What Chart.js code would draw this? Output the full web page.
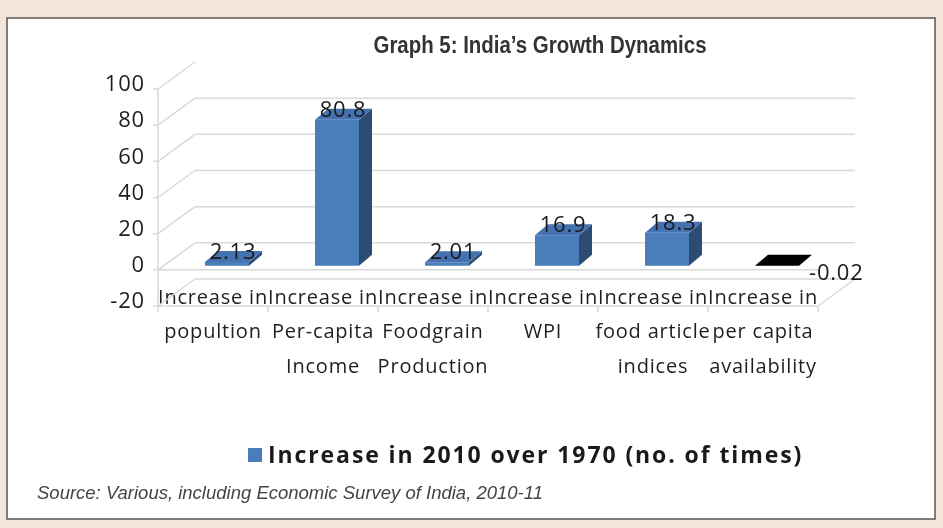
<!DOCTYPE html>
<html>
<head>
<meta charset="utf-8">
<script src="https://cdn.jsdelivr.net/npm/chart.js@4.4.1/dist/chart.umd.min.js"></script>
<style>
  html, body { margin: 0; padding: 0; background: #f5e5d8; }
  canvas { display: block; }
</style>
</head>
<body>
<canvas id="growth-chart" width="943" height="528"></canvas>
<script>
const categories = [
  ["Increase in", "popultion"],
  ["Increase in", "Per-capita", "Income"],
  ["Increase in", "Foodgrain", "Production"],
  ["Increase in", "WPI"],
  ["Increase in", "food article", "indices"],
  ["Increase in", "per capita", "availability"],
];
const increaseTimes = [2.13, 80.8, 2.01, 16.9, 18.3, -0.02];
const valueLabels = ["2.13", "80.8", "2.01", "16.9", "18.3", "-0.02"];
const seriesName = "Increase in 2010 over 1970 (no. of times)";
const yTicks = { min: -20, max: 100, step: 20 };
const chartTitle = "Graph 5: India\u2019s Growth Dynamics";
const sourceNote = "Source: Various, including Economic Survey of India, 2010-11";

// 3d look
const BAR_DX = 14;      // bars sit a bit behind the front axis
const FACE_DX = 13, FACE_DY = -11;
const WALL_DX = 37, WALL_DY = -27, FRONT_DY = 4;
const GRID = "#d9d9d9";

function line(ctx, x1, y1, x2, y2) {
  ctx.beginPath();
  ctx.moveTo(x1, y1);
  ctx.lineTo(x2, y2);
  ctx.stroke();
}

function poly(ctx, pts, fill) {
  ctx.beginPath();
  ctx.moveTo(pts[0][0], pts[0][1]);
  for (let i = 1; i < pts.length; i++) ctx.lineTo(pts[i][0], pts[i][1]);
  ctx.closePath();
  ctx.fillStyle = fill;
  ctx.fill();
}

const spacing = {
  id: "spacing",
  beforeUpdate(chart) { chart.ctx.letterSpacing = "0.8px"; },
  beforeDraw(chart) { chart.ctx.letterSpacing = "0.8px"; }
};

const frame = {
  id: "frame",
  beforeDraw(chart) {
    const ctx = chart.ctx;
    ctx.save();
    ctx.fillStyle = "#f5e5d8";
    ctx.fillRect(0, 0, chart.width, chart.height);
    ctx.fillStyle = "#ffffff";
    ctx.fillRect(7, 18, 928, 501);
    ctx.strokeStyle = "#555555";
    ctx.lineWidth = 1.5;
    ctx.strokeRect(7, 18, 928, 501);
    ctx.restore();
  }
};

const grid3d = {
  id: "grid3d",
  beforeDatasetsDraw(chart) {
    const ctx = chart.ctx;
    const ys = chart.scales.y;
    const L = chart.chartArea.left, R = chart.chartArea.right;
    const front = v => ys.getPixelForValue(v) + FRONT_DY;
    ctx.save();
    ctx.strokeStyle = GRID;
    ctx.lineWidth = 1.5;
    ys.ticks.forEach(t => {
      const yf = front(t.value), yb = yf + WALL_DY;
      if (t.value < yTicks.max) line(ctx, L + WALL_DX, yb, R + WALL_DX, yb);
      line(ctx, L, yf, L + WALL_DX, yb);
      line(ctx, L - 5, yf, L, yf);
    });
    const yMin = front(yTicks.min);
    line(ctx, L, front(yTicks.max), L, yMin);
    line(ctx, L, yMin, R, yMin);
    line(ctx, L, front(0), R, front(0));
    line(ctx, R, yMin, R + WALL_DX, yMin + WALL_DY);
    const step = (R - L) / categories.length;
    for (let i = 0; i <= categories.length; i++) {
      line(ctx, L + i * step, yMin, L + i * step, yMin + 6);
    }
    ctx.restore();

    ctx.save();
    ctx.translate(BAR_DX, 0);
  },
  afterDatasetsDraw(chart) {
    const ctx = chart.ctx;
    const meta = chart.getDatasetMeta(0);
    meta.data.forEach((bar, i) => {
      const { x, y, base, width } = bar.getProps(["x", "y", "base", "width"], true);
      const left = x - width / 2, right = x + width / 2;
      const top = Math.min(y, base), bottom = Math.max(y, base);
      const neg = increaseTimes[i] < 0;
      poly(ctx, [[right, top], [right + FACE_DX, top + FACE_DY], [right + FACE_DX, bottom + FACE_DY], [right, bottom]], "#2d4c74");
      poly(ctx, [[left, top], [left + FACE_DX, top + FACE_DY], [right + FACE_DX, top + FACE_DY], [right, top]], neg ? "#000000" : "#4572b0");

      ctx.fillStyle = "#1a1a1a";
      ctx.font = "22px 'Open Sans'";
      ctx.textBaseline = "alphabetic";
      if (neg) {
        ctx.textAlign = "left";
        ctx.fillText(valueLabels[i], right + 10, base + 14);
      } else {
        ctx.textAlign = "center";
        ctx.fillText(valueLabels[i], x + 6, top - 3);
      }
    });
    ctx.restore();
  },
  afterDraw(chart) {
    const ctx = chart.ctx;
    ctx.save();
    ctx.letterSpacing = "0px";
    ctx.fillStyle = "#333333";
    ctx.textAlign = "center";
    ctx.textBaseline = "middle";
    ctx.font = "bold 23px 'Liberation Sans', Arial, sans-serif";
    // narrow face: squeeze the title to its width in the picture
    const sx = 333 / ctx.measureText(chartTitle).width;
    ctx.save();
    ctx.translate(540, 47);
    ctx.scale(sx, 1);
    ctx.fillText(chartTitle, 0, 0);
    ctx.restore();

    ctx.fillStyle = chart.data.datasets[0].backgroundColor;
    ctx.fillRect(248, 448, 14, 14);
    ctx.fillStyle = "#1a1a1a";
    ctx.textAlign = "left";
    ctx.letterSpacing = "1.9px";
    ctx.font = "bold 23px 'Open Sans'";
    ctx.fillText(chart.data.datasets[0].label, 268, 456);

    ctx.letterSpacing = "0px";
    ctx.fillStyle = "#444444";
    ctx.font = "italic 18.5px 'Liberation Sans', Arial, sans-serif";
    ctx.fillText(sourceNote, 37, 494);
    ctx.restore();
  }
};

new Chart(document.getElementById("growth-chart"), {
  type: "bar",
  data: {
    labels: categories,
    datasets: [{
      label: seriesName,
      data: increaseTimes,
      backgroundColor: "#4a7ebb",
      barPercentage: 0.4,
      categoryPercentage: 1,
      clip: false,
    }],
  },
  options: {
    responsive: false,
    animation: false,
    layout: { padding: { left: 20, right: 125, top: 85, bottom: 0 } },
    plugins: {
      legend: { display: false },
      title: { display: false },
      tooltip: { enabled: false },
    },
    scales: {
      x: {
        grid: { display: false, drawTicks: false },
        border: { display: false },
        ticks: {
          color: "#1f1f1f",
          font: { family: "'Open Sans'", size: 20, lineHeight: 1.725 },
          padding: -21,
          autoSkip: false,
          maxRotation: 0,
          minRotation: 0,
        },
        afterFit(scale) {
          scale.height = 226;
          // first label line sits on the floor, above the axis box
          scale._computeLabelArea = () => undefined;
        },
      },
      y: {
        min: yTicks.min,
        max: yTicks.max,
        grid: { display: false, drawTicks: false },
        border: { display: false },
        ticks: {
          stepSize: yTicks.step,
          color: "#1f1f1f",
          font: { family: "'Open Sans'", size: 22 },
          padding: 13,
        },
        afterFit(scale) { scale.width = 138; },
      },
    },
  },
  plugins: [spacing, frame, grid3d],
});
</script>
</body>
</html>
